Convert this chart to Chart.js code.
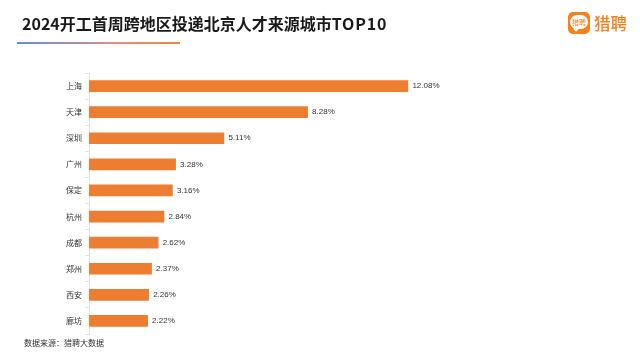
<!DOCTYPE html>
<html>
<head>
<meta charset="utf-8">
<script src="https://cdn.jsdelivr.net/npm/chart.js@4"></script>
<style>
  html, body { margin: 0; padding: 0; background: #fff; }
  #wrap { position: relative; width: 640px; height: 360px; overflow: hidden; font-family: "Noto Sans CJK SC", sans-serif; }
  #salaryChart { position: absolute; left: 0; top: 0; }
  .title { position: absolute; left: 22px; top: 11px; font-size: 16px; line-height: 24px; font-weight: 700; color: #1a1a1a; white-space: nowrap; }
  .title span { letter-spacing: 0.8px; }
  .rule { position: absolute; left: 17px; top: 42px; width: 163px; height: 2px; background: linear-gradient(90deg, #5b8fd9, #e58a86 60%, #f0873a); }
  .logo { position: absolute; left: 568px; top: 12px; width: 22px; height: 22px; border-radius: 5px; background: #f5801f; }
  .bubble { position: absolute; left: 2px; top: 3px; width: 18px; height: 14px; border-radius: 7px; background: #fff; color: #f5801f; font-size: 7px; line-height: 14px; text-align: center; white-space: nowrap; }
  .tail { position: absolute; left: 6px; top: 15px; width: 4px; height: 4px; background: #fff; transform: rotate(45deg); }
  .brand { position: absolute; left: 594px; top: 11px; font-size: 16.5px; line-height: 24px; font-weight: 500; color: #f5801f; white-space: nowrap; }
  .source { position: absolute; left: 24px; top: 337px; font-size: 8px; line-height: 12px; color: #333; white-space: nowrap; }
</style>
</head>
<body>
<div id="wrap">
  <canvas id="salaryChart" width="640" height="360"></canvas>
  <div class="title">2024开工首周跨地区投递北京人才来源城市<span>TOP10</span></div>
  <div class="rule"></div>
  <div class="logo"><div class="tail"></div><div class="bubble">猎聘</div></div>
  <div class="brand">猎聘</div>
  <div class="source">数据来源：猎聘大数据</div>
</div>
<script>
const cities = ['上海', '天津', '深圳', '广州', '保定', '杭州', '成都', '郑州', '西安', '廊坊'];
const shares = [12.08, 8.28, 5.11, 3.28, 3.16, 2.84, 2.62, 2.37, 2.26, 2.22];

// Percent labels at the end of each bar
const barLabels = {
    id: 'barLabels',
    afterDatasetsDraw(chart) {
        const ctx = chart.ctx;
        ctx.save();
        ctx.font = '8px "Liberation Sans", sans-serif';
        ctx.fillStyle = '#333';
        ctx.textBaseline = 'middle';
        chart.getDatasetMeta(0).data.forEach((bar, i) => {
            ctx.fillText(shares[i].toFixed(2) + '%', bar.x + 4.5, bar.y);
        });
        ctx.restore();
    }
};

new Chart(document.getElementById('salaryChart').getContext('2d'), {
    type: 'bar',
    data: {
        labels: cities,
        datasets: [{
            data: shares,
            backgroundColor: '#ed7d31',
            barThickness: 11
        }]
    },
    options: {
        indexAxis: 'y',
        responsive: false,
        animation: false,
        layout: { padding: { top: 73, bottom: 26, right: 181.4 } },
        plugins: { legend: { display: false }, tooltip: { enabled: false } },
        scales: {
            x: { display: false, min: 0, max: 14 },
            y: {
                afterFit(scale) { scale.width = 89; },
                border: { color: '#e2e2e2' },
                grid: { drawOnChartArea: false, color: '#e2e2e2', tickLength: 4 },
                ticks: {
                    color: '#333',
                    padding: 3,
                    font: { size: 8, family: "'Noto Sans CJK SC', sans-serif" }
                }
            }
        }
    },
    plugins: [barLabels]
});
</script>
</body>
</html>
